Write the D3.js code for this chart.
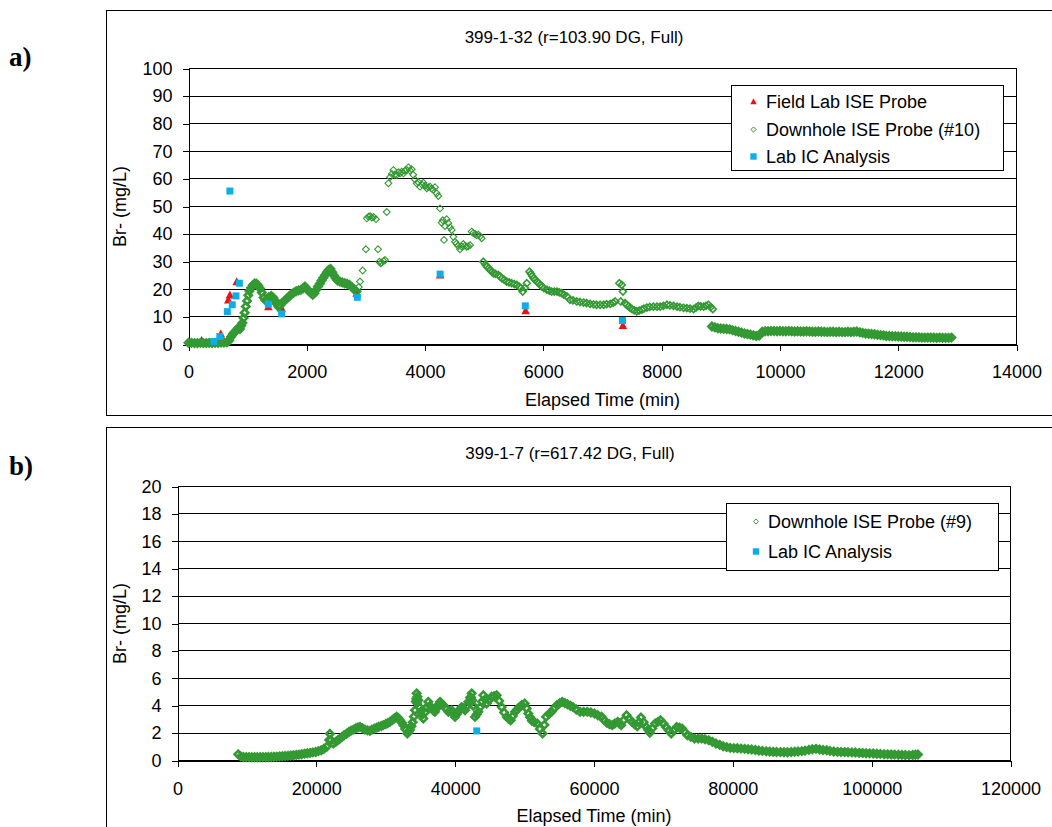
<!DOCTYPE html>
<html>
<head>
<meta charset="utf-8">
<script src="https://cdn.jsdelivr.net/npm/d3@7"></script>
<style>
body { margin: 0; background: #fff; }
</style>
</head>
<body>
<div id="canevas"></div>
<script>

////////////////////////////////////////////////////////////////////////////////////////////
//                                        données                                         //
////////////////////////////////////////////////////////////////////////////////////////////

// a) 399-1-32 : [temps (min), Br- (mg/L)]
let terrainA = [[223,1.5],[545,3.9],[673,16.2],[700,18],[815,22.8],[1350,13.7],[1575,13.2],
	[2845,18.6],[4255,25.2],[5700,12.3],[7345,6.9]];

// sonde de fond #10, par phases
let sondeA_debut = [
	[0,0.6],[50,0.6],[100,0.5],[150,0.5],[200,0.6],[250,0.5],[300,0.5],[350,0.6],[400,0.5],[450,0.6],
	[500,0.6],[550,0.7],[600,0.7],[650,0.8],[690,1.5],[720,2.8],[750,3.8],[780,4.5],[810,5.2],[840,6],
	[870,5.6],[890,6.8],[910,7.8],[930,9.6],[950,11.5],[970,13.8],[990,15.8],[1010,17.8],[1030,19.4],
	[1060,20.6],[1090,21.6],[1120,22.1],[1150,22],[1180,21.3],[1210,20.3],[1240,18.8],[1270,17],
	[1300,16],[1330,16.4],[1360,17.2],[1400,17.6],[1430,17],[1460,16],[1490,14.8],[1520,13.7],
	[1550,14.2],[1580,15],[1620,15.8],[1660,16.6],[1700,17.4],[1740,18.2],[1780,18.8],[1820,19.3],
	[1860,19.6],[1900,19.8],[1940,20.4],[1970,21],[2000,20.2],[2030,19.5],[2060,18.8],[2100,18],
	[2130,18.6],[2160,19.8],[2190,21],[2220,22],[2250,23.2],[2280,24.2],[2310,25.2],[2340,26.2],
	[2370,27],[2400,27.4],[2430,26.2],[2460,25],[2490,24],[2520,23.2],[2560,22.8],[2600,22.5],
	[2640,22.2],[2680,22],[2720,21.6],[2760,20.8],[2800,20],[2840,19.2]];

let sondeA_pic = [
	[2880,20.8],[2900,22.8],[2945,26.8],[3000,34.5],[3015,45.7],[3045,46.3],[3070,46.5],[3100,46],
	[3130,46.2],[3170,45.4],[3205,34.5],[3227,30],[3250,29.4],[3267,29.7],[3300,30.2],[3323,30.6],
	[3352,48],[3380,58.4],[3408,60.6],[3440,61.8],[3464,63.2],[3490,61.5],[3520,61.4],[3550,62.4],
	[3577,62],[3605,62.6],[3633,62],[3660,63],[3690,63.2],[3718,64.2],[3745,63],[3774,63.5],
	[3800,61.5],[3830,59.8],[3858,58.4],[3887,58.8],[3915,57.2],[3945,58],[3971,58.6],[4000,57.5],
	[4027,56.6],[4055,57],[4084,57.2],[4110,56.5],[4140,56],[4168,57],[4196,54.8],[4224,53.8],
	[4253,49.3],[4281,44.1],[4300,45],[4320,37.9],[4337,42.9],[4365,45.4],[4393,44],[4422,42.5],
	[4450,41.5],[4478,39],[4506,37.2],[4530,36.5],[4563,35.7],[4590,34.5],[4620,35.5],[4647,36.4],
	[4675,35.8],[4703,35.4],[4730,35.6],[4760,36],[4788,40.9],[4815,40.4],[4844,40],[4872,39.6],
	[4900,39.8],[4930,39.2],[4957,38.5]];

let sondeA_descente = [
	[4985,30],[5020,29],[5045,28.2],[5075,27.6],[5100,27],[5130,26.4],[5155,25.8],[5190,25.6],
	[5240,25.2],[5270,24.6],[5300,24],[5340,23.4],[5380,22.8],[5420,22.5],[5465,22.2],[5510,21.9],
	[5550,21.6],[5590,21],[5620,20.4],[5650,19.2],[5690,20.5],[5720,22.2],[5765,26.4],[5790,25.6],
	[5810,24.8],[5840,24],[5860,23.4],[5890,22.8],[5920,22.2],[5950,21.6],[5975,21],[6010,20.4],
	[6060,19.8],[6100,19.5],[6140,19.2],[6185,19.2],[6230,19.2],[6270,18.9],[6310,18.6],[6350,18],
	[6400,17.4],[6450,16.2],[6500,16],[6565,15.6],[6620,15.4],[6680,15.2],[6730,15],[6790,14.7],
	[6850,14.5],[6900,14.4],[6960,14.4],[7020,14.4],[7070,14.6],[7130,14.7],[7180,15.1],[7215,15.6],
	[7285,22.2],[7325,21.6],[7345,19.2],[7310,15.6],[7380,15],[7410,14.4],[7440,13.8],[7470,13.3],
	[7500,12.8],[7540,12.4],[7580,12],[7620,12.3],[7665,12.6],[7700,13],[7750,13.4],[7800,13.6],
	[7860,13.7],[7920,13.7],[7975,13.7],[8030,14],[8090,14.4],[8140,14.2],[8200,14],[8260,13.7],
	[8310,13.5],[8370,13.3],[8425,13.2],[8480,13],[8540,12.8],[8580,13.4],[8620,14],[8660,13.8],
	[8710,13.7],[8750,14],[8790,14.4],[8830,13.6],[8865,12.8]];

let sondeA_fin = [
	[8850,6.5],[8900,6.2],[8950,5.9],[9000,5.8],[9050,5.7],[9100,5.6],[9150,5.5],[9200,5.2],[9250,4.9],
	[9300,4.6],[9350,4.3],[9400,4],[9450,3.8],[9500,3.6],[9550,3.3],[9600,3.1],[9650,3.2],[9700,4.6],
	[9750,4.8],[9800,4.8],[9850,4.9],[9900,4.9],[9950,4.8],[10000,4.9],[10050,4.8],[10100,4.8],
	[10150,4.9],[10200,4.8],[10250,4.7],[10300,4.8],[10350,4.7],[10400,4.7],[10450,4.8],[10500,4.7],
	[10550,4.6],[10600,4.6],[10650,4.7],[10700,4.6],[10750,4.6],[10800,4.5],[10850,4.6],[10900,4.6],
	[10950,4.5],[11000,4.6],[11050,4.5],[11100,4.5],[11150,4.6],[11200,4.5],[11250,4.6],[11300,4.7],
	[11350,4.4],[11400,4.2],[11450,4],[11500,3.9],[11550,3.8],[11600,3.7],[11650,3.5],[11700,3.4],
	[11750,3.3],[11800,3.1],[11850,3.1],[11900,3],[11950,3],[12000,2.9],[12050,2.9],[12100,2.8],
	[12150,2.8],[12200,2.7],[12250,2.6],[12300,2.6],[12350,2.6],[12400,2.5],[12450,2.5],[12500,2.5],
	[12550,2.5],[12600,2.5],[12650,2.4],[12700,2.5],[12750,2.4],[12800,2.4],[12850,2.4],[12900,2.5]];

let labA = [[430,1.1],[530,2.9],[657,11.9],[700,55.6],[740,14.4],[803,17.6],[860,22.2],[1350,14.6],
	[1575,11.1],[2855,17.1],[4255,25.5],[5695,14],[7337,8.7]];

// b) 399-1-7 : sonde de fond #9
let sondeB = [
	[8740,0.45],[9100,0.3],[9500,0.26],[9900,0.25],[10300,0.25],[10700,0.24],[11100,0.25],[11500,0.24],
	[11900,0.25],[12300,0.25],[12700,0.25],[13100,0.26],[13500,0.26],[13900,0.27],[14300,0.28],
	[14700,0.3],[15100,0.31],[15500,0.33],[15900,0.34],[16300,0.36],[16700,0.38],[17100,0.41],
	[17500,0.43],[17900,0.46],[18300,0.5],[18700,0.53],[19100,0.56],[19500,0.59],[19900,0.62],
	[20300,0.68],[20700,0.75],[21100,0.86],[21500,1],[21850,1.5],[21960,1.95],[22100,1.5],[22450,1.24],
	[22800,1.36],[23100,1.48],[23400,1.6],[23700,1.72],[24000,1.84],[24350,1.95],[24700,2.08],
	[25000,2.18],[25350,2.25],[25700,2.35],[26000,2.42],[26300,2.45],[26650,2.35],[27000,2.25],
	[27350,2.2],[27700,2.16],[28000,2.25],[28350,2.33],[28700,2.4],[29000,2.46],[29350,2.52],
	[29650,2.58],[30000,2.66],[30300,2.74],[30600,2.82],[30950,2.95],[31250,3.08],[31570,3.2],
	[31800,3.1],[32050,2.94],[32300,2.78],[32530,2.58],[32800,2.3],[33110,1.97],[33300,2.1],
	[33490,2.25],[33700,2.5],[33880,2.8],[34050,3.2],[34210,3.67],[34330,4.3],[34400,4.5],[34450,4.9],
	[34500,4.2],[34570,4.65],[34690,4.4],[34850,3.9],[35030,3.55],[35200,3.3],[35410,3.06],[35650,3.5],
	[35890,3.9],[36130,4.28],[36370,4],[36610,3.79],[36850,3.65],[37090,3.55],[37300,3.8],[37550,4.05],
	[37820,4.28],[38050,4.15],[38300,4.04],[38650,3.8],[39020,3.55],[39250,3.6],[39500,3.67],
	[39750,3.4],[39980,3.18],[40200,3.35],[40460,3.55],[40700,3.75],[40940,3.9],[41200,3.8],
	[41420,3.67],[41650,3.95],[41900,4.28],[42150,4.6],[42200,4.2],[42300,4.6],[42380,4.9],[42450,4.4],
	[42600,4],[42860,3.18],[43100,3.35],[43340,3.55],[43600,3.9],[43850,4.3],[44060,4.77],[44300,4.45],
	[44540,4.16],[44870,4.4],[45260,4.65],[45600,4.7],[45980,4.77],[46350,4.35],[46700,3.9],
	[47050,3.5],[47430,3.18],[47700,3.05],[48000,2.94],[48300,3.25],[48630,3.55],[48900,3.7],
	[49250,3.9],[49600,4.05],[50020,4.16],[50300,3.8],[50530,3.43],[50800,3.15],[51050,2.9],
	[51400,2.8],[51820,2.7],[52200,2.3],[52590,1.97],[52850,2.6],[53100,3.19],[53500,3.4],[53880,3.55],
	[54250,3.8],[54650,4.04],[55050,4.18],[55420,4.28],[55800,4.2],[56190,4.11],[56600,4],[56970,3.9],
	[57450,3.72],[57990,3.55],[58500,3.55],[59030,3.55],[59550,3.5],[60060,3.43],[60550,3.3],
	[61090,3.19],[61450,2.95],[61860,2.75],[62250,2.65],[62630,2.58],[63000,2.7],[63400,2.82],
	[63650,2.7],[63920,2.58],[64300,2.95],[64690,3.31],[65050,3.05],[65460,2.82],[65850,2.65],
	[66230,2.5],[66500,2.8],[66760,3.14],[67150,2.8],[67530,2.45],[67800,2.25],[68040,2.02],
	[68400,2.35],[68810,2.7],[69200,2.82],[69590,2.94],[70000,2.7],[70360,2.45],[70750,2.2],
	[71130,1.97],[71500,2.2],[71910,2.45],[72300,2.4],[72680,2.33],[73050,2.1],[73450,1.84],
	[73950,1.72],[74480,1.6],[75000,1.6],[75510,1.6],[76000,1.55],[76540,1.48],[77050,1.36],
	[77570,1.24],[78100,1.14],[78600,1.04],[79100,0.98],[79630,0.92],[80150,0.9],[80650,0.89],
	[81170,0.87],[81700,0.85],[82200,0.82],[82720,0.8],[83250,0.77],[83750,0.73],[84260,0.7],
	[84800,0.67],[85300,0.65],[85810,0.63],[86300,0.62],[86850,0.61],[87370,0.6],[87870,0.6],
	[88400,0.62],[88900,0.64],[89400,0.66],[89930,0.68],[90400,0.72],[90950,0.78],[91450,0.82],
	[91980,0.85],[92500,0.8],[93000,0.77],[93530,0.75],[94000,0.7],[94550,0.66],[95080,0.63],
	[95600,0.62],[96100,0.61],[96600,0.6],[97150,0.59],[97660,0.58],[98200,0.56],[98700,0.55],
	[99200,0.53],[99700,0.52],[100230,0.51],[100750,0.49],[101250,0.48],[101800,0.46],[102300,0.45],
	[102810,0.44],[103300,0.43],[103850,0.42],[104350,0.41],[104850,0.4],[105380,0.39],[105900,0.4],
	[106300,0.42],[106670,0.44]];

let labB = [[43110,2.16]];

// graduations et textes
let ticksXA = [0,2000,4000,6000,8000,10000,12000,14000];
let ticksYA = [0,10,20,30,40,50,60,70,80,90,100];
let ticksXB = [0,20000,40000,60000,80000,100000,120000];
let ticksYB = [0,2,4,6,8,10,12,14,16,18,20];

let titreA = "399-1-32 (r=103.90 DG, Full)";
let titreB = "399-1-7 (r=617.42 DG, Full)";
let legendeA = ["Field Lab ISE Probe", "Downhole ISE Probe (#10)", "Lab IC Analysis"];
let legendeB = ["Downhole ISE Probe (#9)", "Lab IC Analysis"];


////////////////////////////////////////////////////////////////////////////////////////////
//                                        canevas                                         //
////////////////////////////////////////////////////////////////////////////////////////////

let largeur = 1052;
let hauteur = 827;

let canevas = d3.select("#canevas")
	.append("svg")
	.attr("width", largeur)
	.attr("height", hauteur)
	.style("font-family", '"Liberation Sans", Arial, sans-serif');

canevas.append("rect")
	.attr("width", "100%")
	.attr("height", "100%")
	.attr("fill", "#fff");

let vert = "#339933";
let rouge = "#ee1111";
let bleu = "#0caeea";


////////////////////////////////////////////////////////////////////////////////////////////
//                                        fonctions                                       //
////////////////////////////////////////////////////////////////////////////////////////////

// formes des marqueurs
function losange(r) { return `M0,${-r}L${r},0L0,${r}L${-r},0Z`; }
function triangle(r) { return `M0,${-r}L${r},${r*0.85}L${-r},${r*0.85}Z`; }
function carre(r) { return `M${-r},${-r}H${r}V${r}H${-r}Z`; }

function marqueur(g, type, r, ep) {
	if (type == "tri") return g.append("path").attr("d", triangle(r)).attr("fill", rouge);
	if (type == "los") return g.append("path").attr("d", losange(r)).attr("fill", "none").attr("stroke", vert).attr("stroke-width", ep || 1);
	if (type == "car") return g.append("path").attr("d", carre(r)).attr("fill", bleu);
}

function series(g, donnees, type, r, ep, x, y) {
	g.selectAll("path")
		.data(donnees)
		.enter()
		.each(function(d) {
			marqueur(g, type, r, ep).attr("transform", `translate(${x(d[0])},${y(d[1])})`);
		});
}

// un panneau complet
function panneau(p) {
	let g = canevas.append("g");

	// cadre du graphique
	g.append("rect")
		.attr("x", p.cadre[0]).attr("y", p.cadre[1])
		.attr("width", p.cadre[2]).attr("height", p.cadre[3])
		.attr("fill", "none").attr("stroke", "#000");

	let echelleX = d3.scaleLinear().domain([p.ticksX[0], p.ticksX[p.ticksX.length-1]]).range([p.gauche, p.droite]);
	let echelleY = d3.scaleLinear().domain([p.ticksY[0], p.ticksY[p.ticksY.length-1]]).range([p.bas, p.haut]);

	// grille horizontale
	g.append("g").selectAll("line")
		.data(p.ticksY)
		.enter()
		.append("line")
		.attr("x1", p.gauche).attr("x2", p.droite)
		.attr("y1", d => echelleY(d)).attr("y2", d => echelleY(d))
		.attr("stroke", "#000")
		.attr("shape-rendering", "crispEdges");

	// bord droit
	g.append("line")
		.attr("x1", p.droite).attr("x2", p.droite)
		.attr("y1", p.haut).attr("y2", p.bas)
		.attr("stroke", "#000")
		.attr("shape-rendering", "crispEdges");

	// axes
	let axeY = g.append("g")
		.attr("transform", `translate(${p.gauche},0)`)
		.call(d3.axisLeft(echelleY).tickValues(p.ticksY).tickSizeInner(6).tickSizeOuter(0).tickPadding(p.padY));
	let axeX = g.append("g")
		.attr("transform", `translate(0,${p.bas})`)
		.call(d3.axisBottom(echelleX).tickValues(p.ticksX).tickSizeInner(6).tickSizeOuter(0).tickPadding(p.padX).tickFormat(d3.format("d")));
	[axeY, axeX].forEach(a => {
		a.attr("font-family", null).attr("font-size", 18);
		a.selectAll("path, line").attr("stroke", "#000").attr("shape-rendering", "crispEdges");
		a.selectAll("text").attr("fill", "#000");
	});

	// titres
	g.append("text").attr("x", p.titrePos[0]).attr("y", p.titrePos[1])
		.attr("text-anchor", "middle").attr("font-size", 17).text(p.titre);
	g.append("text").attr("x", (p.gauche + p.droite) / 2).attr("y", p.titreX)
		.attr("text-anchor", "middle").attr("font-size", 18).text("Elapsed Time (min)");
	g.append("text")
		.attr("transform", `translate(${p.titreY},${(p.haut + p.bas) / 2}) rotate(-90)`)
		.attr("text-anchor", "middle").attr("font-size", 18).text("Br- (mg/L)");
	g.append("text").attr("x", 9).attr("y", p.lettreY)
		.style("font-family", '"Liberation Serif", "Times New Roman", serif')
		.attr("font-weight", "bold").attr("font-size", 27).text(p.lettre);

	// séries
	p.series.forEach(s => series(g.append("g"), s.donnees, s.type, s.r, s.ep, echelleX, echelleY));

	// légende
	let l = g.append("g");
	l.append("rect")
		.attr("x", p.leg[0]).attr("y", p.leg[1])
		.attr("width", p.leg[2]).attr("height", p.leg[3])
		.attr("fill", "#fff").attr("stroke", "#000")
		.attr("shape-rendering", "crispEdges");
	p.legende.forEach((t, i) => {
		let yy = p.legLignes[i];
		marqueur(l, p.legTypes[i], p.legTypes[i] == "los" ? 2.6 : 3.2, 1)
			.attr("transform", `translate(${p.legMarqX},${yy})`);
		l.append("text").attr("x", p.legTexteX).attr("y", yy).attr("dy", "0.36em")
			.attr("font-size", 18).text(t);
	});
}


////////////////////////////////////////////////////////////////////////////////////////////
//                                        dessin                                          //
////////////////////////////////////////////////////////////////////////////////////////////

// les phases très denses apparaissent comme une bande pleine
panneau({
	cadre: [106.5, 10.5, 1000, 405],
	gauche: 188.5, droite: 1016.5, haut: 68.5, bas: 344.5,
	ticksX: ticksXA, ticksY: ticksYA, padY: 10, padX: 15,
	titre: titreA, titrePos: [574, 42.5], titreX: 406, titreY: 126,
	lettre: "a)", lettreY: 66,
	series: [
		{donnees: terrainA, type: "tri", r: 4.3},
		{donnees: sondeA_debut, type: "los", r: 3.6, ep: 2.6},
		{donnees: sondeA_pic, type: "los", r: 3.4, ep: 1.1},
		{donnees: sondeA_descente, type: "los", r: 3.5, ep: 1.6},
		{donnees: sondeA_fin, type: "los", r: 3.6, ep: 2.6},
		{donnees: labA, type: "car", r: 3.5}
	],
	legende: legendeA, legTypes: ["tri", "los", "car"],
	leg: [731.5, 85.5, 272, 85], legLignes: [101.5, 129.5, 156.5], legMarqX: 753.5, legTexteX: 766
});

panneau({
	cadre: [106.5, 427.5, 1000, 460],
	gauche: 177.5, droite: 1010.5, haut: 486.5, bas: 760.5,
	ticksX: ticksXB, ticksY: ticksYB, padY: 10, padX: 16,
	titre: titreB, titrePos: [570, 458.5], titreX: 821.5, titreY: 126,
	lettre: "b)", lettreY: 475,
	series: [
		{donnees: sondeB, type: "los", r: 3.6, ep: 2.6},
		{donnees: labB, type: "car", r: 3.5}
	],
	legende: legendeB, legTypes: ["los", "car"],
	leg: [726.5, 503.5, 272, 67], legLignes: [521.5, 551.5], legMarqX: 756, legTexteX: 768
});

</script>
</body>
</html>
